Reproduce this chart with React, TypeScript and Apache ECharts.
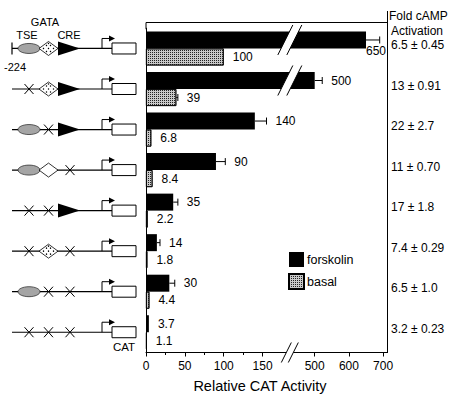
import React, { useEffect, useRef } from "react";
import * as echarts from "echarts";

// ---------- data ----------
const constructs = ["wild type", "mTSE", "mGATA", "mCRE", "mTSE-mGATA", "mTSE-mCRE", "mGATA-mCRE", "mTSE-mGATA-mCRE"];
const hasTSE = [1, 0, 1, 1, 0, 0, 1, 0];
const hasGATA = [1, 1, 0, 1, 0, 1, 0, 0];
const hasCRE = [1, 1, 1, 0, 1, 0, 0, 0];
const forskolin = [650, 500, 140, 90, 35, 14, 30, 3.7];
const forskolinErr = [40, 22, 15, 12, 6, 4, 7, 0];
const basal = [100, 39, 6.8, 8.4, 2.2, 1.8, 4.4, 1.1];
const basalErr = [0, 2, 0, 0, 0, 0, 0, 0];
const foldActivation = ["6.5 ± 0.45", "13 ± 0.91", "22 ± 2.7", "11 ± 0.70", "17 ± 1.8", "7.4 ± 0.29", "6.5 ± 1.0", "3.2 ± 0.23"];
const majorTicks = [0, 50, 100, 150, 500, 600, 700];
const minorTicks = [25, 75, 125];
const seriesNames = ["forskolin", "basal"];

// ---------- broken axis mapping (layout, not data) ----------
const LOWER_LIMIT = 300;
const UPPER_START = 500;
const UPPER_ORIGIN = 217;
const UPPER_SCALE = 0.44;
const BREAK_AT = 185;
const AXIS_MAX = 310;
const toAxis = (v: number) => (v <= LOWER_LIMIT ? v : UPPER_ORIGIN + (v - UPPER_START) * UPPER_SCALE);
const fromAxis = (t: number) => (t <= BREAK_AT ? t : UPPER_START + (t - UPPER_ORIGIN) / UPPER_SCALE);

const GRID = { left: 146, right: 65, top: 28.2, bottom: 41.5 };
const W = 452;
const H = 394;
const FONT = "'Liberation Sans', Arial, Helvetica, sans-serif";
const NARROW = "'Liberation Sans Narrow', 'Liberation Sans', Arial, sans-serif";
const BAR_W = 17;

function errorSeries(name: string, values: number[], errs: number[], offset: number) {
  return {
    type: "custom",
    name,
    silent: true,
    z: 5,
    xAxisIndex: 0,
    yAxisIndex: 0,
    encode: { x: [0, 1], y: 2 },
    data: values.map((v, i) => [toAxis(v), toAxis(v + errs[i]), i, v]),
    renderItem: (params: any, api: any) => {
      const i = api.value(2);
      const p0 = api.coord([api.value(0), i]);
      const p1 = api.coord([api.value(1), i]);
      const y = p0[1] + offset;
      const children: any[] = [];
      if (p1[0] - p0[0] > 0.8) {
        children.push({ type: "line", shape: { x1: p0[0], y1: y, x2: p1[0], y2: y }, style: { stroke: "#000", lineWidth: 1 } });
        children.push({ type: "line", shape: { x1: p1[0], y1: y - 3.5, x2: p1[0], y2: y + 3.5 }, style: { stroke: "#000", lineWidth: 1 } });
      }
      const text = String(api.value(3));
      const right = params.coordSys.x + params.coordSys.width;
      const end = Math.max(p0[0], p1[0]);
      let tx = end + 9;
      let ty = y;
      if (tx + text.length * 7 > right) {
        tx = p0[0];
        ty = y + 11.5;
      }
      children.push({
        type: "text",
        style: { text, x: tx, y: ty, fill: "#000", font: `12px ${FONT}`, align: "left", verticalAlign: "middle", textAlign: "left", textVerticalAlign: "middle" },
      });
      return { type: "group", children };
    },
  };
}

export default function App() {
  const ref = useRef<HTMLDivElement>(null);
  useEffect(() => {
    const chart = echarts.init(ref.current!, null, { renderer: "svg" });
    const option: any = {
      animation: false,
      grid: { ...GRID, containLabel: false },
      legend: {
        data: seriesNames,
        orient: "vertical",
        left: 288,
        top: 252,
        padding: 0,
        itemWidth: 15,
        itemHeight: 15,
        itemGap: 6,
        icon: "rect",
        selectedMode: false,
        textStyle: { fontSize: 12.5, color: "#000", fontFamily: FONT, padding: [0, 0, 0, -2] },
      },
      xAxis: [
        {
          type: "value",
          min: 0,
          max: AXIS_MAX,
          position: "bottom",
          axisLine: { show: true, lineStyle: { color: "#000", width: 1 } },
          axisTick: { show: true, customValues: majorTicks.map(toAxis), length: 4, lineStyle: { color: "#000" } },
          axisLabel: {
            customValues: majorTicks.map(toAxis),
            formatter: (v: number) => String(Math.round(fromAxis(v))),
            margin: 7,
            fontSize: 12,
            color: "#000",
            fontFamily: FONT,
          },
          splitLine: { show: false },
        },
        {
          type: "value",
          min: 0,
          max: AXIS_MAX,
          position: "bottom",
          axisLine: { show: false },
          axisTick: { show: true, customValues: minorTicks.map(toAxis), length: 2.5, lineStyle: { color: "#000" } },
          axisLabel: { show: false },
          splitLine: { show: false },
        },
      ],
      yAxis: {
        type: "category",
        data: constructs,
        inverse: true,
        axisLine: { show: true, lineStyle: { color: "#000", width: 1 } },
        axisTick: { show: false },
        axisLabel: { show: false },
        splitLine: { show: false },
      },
      series: [
        {
          type: "bar",
          name: seriesNames[0],
          data: forskolin.map(toAxis),
          barWidth: BAR_W,
          barGap: "0%",
          itemStyle: { color: "#000" },
        },
        {
          type: "bar",
          name: seriesNames[1],
          data: basal.map(toAxis),
          barWidth: BAR_W,
          barGap: "0%",
          itemStyle: {
            color: "#c8c8c8",
            borderColor: "#000",
            borderWidth: 0.8,
            decal: { symbol: "rect", symbolSize: 1, color: "#222", dashArrayX: [1, 1], dashArrayY: [1, 1], rotation: 0 },
          },
        },
        errorSeries("forskolin-err", forskolin, forskolinErr, -BAR_W / 2),
        errorSeries("basal-err", basal, basalErr, BAR_W / 2),
      ],
    };
    chart.setOption(option);

    // ---------- decorations: frame, break marks, construct diagrams, annotations ----------
    const rowY = constructs.map((_, i) => chart.convertToPixel({ yAxisIndex: 0 }, i) as number);
    const xBreak = chart.convertToPixel({ xAxisIndex: 0 }, BREAK_AT) as number;
    const gl = GRID.left;
    const gr = W - GRID.right;
    const gb = H - GRID.bottom;
    const els: any[] = [];
    const line = (x1: number, y1: number, x2: number, y2: number, lw = 1) =>
      els.push({ type: "line", z: 50, silent: true, shape: { x1, y1, x2, y2 }, style: { stroke: "#000", lineWidth: lw } });
    const text = (t: string, x: number, y: number, size: number, align = "left", family = FONT) =>
      els.push({
        type: "text",
        z: 50,
        silent: true,
        style: { text: t, x, y, fill: "#000", font: `${size}px ${family}`, align, verticalAlign: "middle", textAlign: align, textVerticalAlign: "middle" },
      });

    // frame
    line(gl, 22.5, gr + 0.5, 22.5);
    line(gl, 22.5, gl, GRID.top + 1);
    line(gr + 0.5, 11, gr + 0.5, gb + 0.5);

    // break marks on bars beyond the break
    const slash = (cx: number, cy: number, h: number, gap: number, cover: number) => {
      const dx = h * 0.5;
      const c1 = cx - gap / 2;
      const c2 = cx + gap / 2;
      const k = cover * 0.5;
      els.push({
        type: "polygon",
        z: 49,
        silent: true,
        shape: { points: [[c1 - k, cy + cover], [c1 + k, cy - cover], [c2 + k, cy - cover], [c2 - k, cy + cover]] },
        style: { fill: "#fff" },
      });
      line(c1 - dx, cy + h, c1 + dx, cy - h, 1);
      line(c2 - dx, cy + h, c2 + dx, cy - h, 1);
    };
    forskolin.forEach((v, i) => {
      if (v > LOWER_LIMIT) slash(xBreak, rowY[i] - BAR_W / 2, 15, 9, 9);
    });
    slash(xBreak, gb, 10, 7, 5);

    // construct diagrams
    const TSE_X = 29, GATA_X = 48.5, CRE_X0 = 58, CRE_X1 = 80, CRE_MX = 70, TSS_X = 102, BOX_X = 112, BOX_W = 24, BOX_H = 11;
    const cross = (cx: number, y: number) => {
      line(cx - 4.5, y - 5, cx + 4.5, y + 5, 1);
      line(cx - 4.5, y + 5, cx + 4.5, y - 5, 1);
    };
    rowY.forEach((y, i) => {
      line(12, y, BOX_X, y, 1.2);
      if (i === 0) line(12, y - 6, 12, y + 6, 1.2);
      if (hasTSE[i]) {
        els.push({ type: "ellipse", z: 50, silent: true, shape: { cx: TSE_X, cy: y, rx: 11, ry: 5 }, style: { fill: "#a5a5a5", stroke: "#222", lineWidth: 0.7 } });
      } else cross(TSE_X, y);
      if (hasGATA[i]) {
        els.push({
          type: "polygon",
          z: 50,
          silent: true,
          shape: { points: [[GATA_X - 9.5, y], [GATA_X, y - 7], [GATA_X + 9.5, y], [GATA_X, y + 7]] },
          style: { fill: "#fff", stroke: "#000", lineWidth: 0.8 },
        });
        [[-5, 0], [-2, -3], [2, -3], [5, 0], [-2, 3], [2, 3], [0, 0], [0, -5]].forEach(([dx, dy]) =>
          els.push({ type: "circle", z: 51, silent: true, shape: { cx: GATA_X + dx, cy: y + dy, r: 0.7 }, style: { fill: "#000" } })
        );
      } else cross(GATA_X, y);
      if (hasCRE[i]) {
        els.push({ type: "polygon", z: 50, silent: true, shape: { points: [[CRE_X0, y - 7], [CRE_X1, y], [CRE_X0, y + 7]] }, style: { fill: "#000" } });
      } else cross(CRE_MX, y);
      els.push({ type: "polyline", z: 50, silent: true, shape: { points: [[TSS_X, y], [TSS_X, y - 10], [BOX_X - 2, y - 10]] }, style: { stroke: "#000", lineWidth: 1, fill: null } });
      els.push({ type: "polygon", z: 50, silent: true, shape: { points: [[BOX_X - 3, y - 13], [BOX_X + 3, y - 10], [BOX_X - 3, y - 7]] }, style: { fill: "#000" } });
      els.push({ type: "rect", z: 50, silent: true, shape: { x: BOX_X, y: y - BOX_H / 2, width: BOX_W, height: BOX_H }, style: { fill: "#fff", stroke: "#000", lineWidth: 1 } });
      text(foldActivation[i], 391, y - 3.5, 12);
    });
    text("GATA", 45, rowY[0] - 26.5, 11, "center", NARROW);
    text("TSE", 27, rowY[0] - 13.5, 11, "center", NARROW);
    text("CRE", 69, rowY[0] - 13.5, 11, "center", NARROW);
    text("-224", 15, rowY[0] + 18.5, 11, "center", NARROW);
    text("CAT", BOX_X + BOX_W / 2, rowY[rowY.length - 1] + 14.5, 11.5, "center", NARROW);

    // right header & axis title
    text("Fold cAMP", 389, 16, 12);
    text("Activation", 391, 31, 12);
    text("Relative CAT Activity", 260, 386, 14.5, "center");

    chart.setOption({ graphic: { elements: els } });
    return () => chart.dispose();
  }, []);
  return <div ref={ref} style={{ position: "fixed", left: 0, top: 0, width: W, height: H, background: "#fff" }} />;
}
